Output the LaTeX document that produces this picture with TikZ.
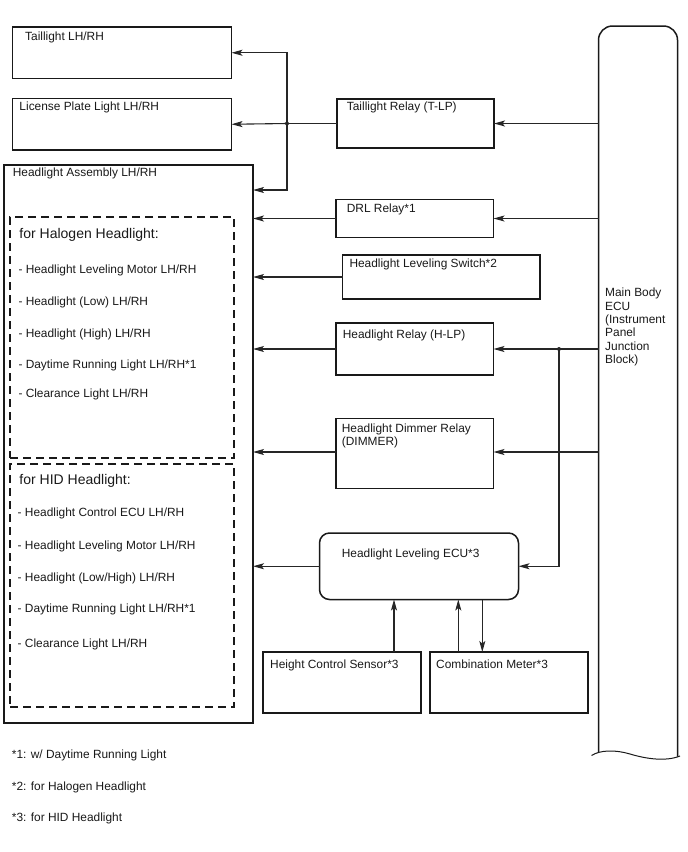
\documentclass[tikz,border=0pt]{standalone}
\usepackage{fontspec}
\setmainfont{Liberation Sans}
\usetikzlibrary{arrows.meta}
\begin{document}
\begin{tikzpicture}[x=1pt,y=-1pt,
  box/.style={draw=black!90, line width=1.5pt, anchor=north west, inner sep=0pt, outer sep=0pt},
  dbox/.style={draw=black!90, line width=1.3pt, dash pattern=on 8pt off 5pt, anchor=north west, inner sep=0pt, outer sep=0pt},
  txt/.style={anchor=base west, inner sep=0pt, font=\fontsize{11.9}{13.5}\selectfont, text=black!90},
  hdr/.style={anchor=base west, inner sep=0pt, font=\fontsize{14}{16}\selectfont, text=black!90},
  mtxt/.style={anchor=north west, inner sep=0pt, align=left, font=\fontsize{11.9}{13.4}\selectfont, text=black!90},
  arr/.style={draw=black!85, line width=1.1pt, -{Stealth[length=11pt,width=6pt,inset=2.5pt]}},
  ln/.style={draw=black!85, line width=1.1pt}
]
\useasboundingbox (0,0) rectangle (688,852);

% ---------- boxes ----------
\node[box, minimum width=219, minimum height=51.5] (tl) at (12.5,27) {};
\node[box, minimum width=219, minimum height=51.5] (lic) at (12.5,98.5) {};
\node[box, minimum width=249, minimum height=558] (assy) at (4,165) {};
\node[dbox, minimum width=224, minimum height=241] (halo) at (10,217) {};
\node[dbox, minimum width=224, minimum height=243] (hid) at (10,464) {};
\node[box, minimum width=157, minimum height=49] (tlr) at (337,99) {};
\node[box, minimum width=157.5, minimum height=38] (drl) at (336,199.5) {};
\node[box, minimum width=197.5, minimum height=44] (sw) at (342.5,255) {};
\node[box, minimum width=157.5, minimum height=52] (hlp) at (336,323) {};
\node[box, minimum width=157.5, minimum height=70] (dim) at (336,418.5) {};
\node[box, rounded corners=10pt, minimum width=199, minimum height=66.5] (lev) at (319.5,533) {};
\node[box, minimum width=158, minimum height=61] (hcs) at (263,652) {};
\node[box, minimum width=158, minimum height=61] (cm) at (430,652) {};

% Main Body ECU (open-ended shape)
\node[anchor=north west, inner sep=0pt, outer sep=0pt, minimum width=79, minimum height=726] (ecu) at (598.5,26) {};
\draw[draw=black!90, line width=1.5pt, rounded corners=14pt]
  (ecu.south west) -- (ecu.north west) -- (ecu.north east) -- ([yshift=-4.5pt]ecu.south east);
\draw[draw=black!90, line width=1pt]
  ([xshift=-7pt,yshift=-3.5pt]ecu.south west) .. controls ([xshift=1.5pt,yshift=2pt]ecu.south west) and ([xshift=16.5pt,yshift=2.5pt]ecu.south west) .. ([xshift=31.5pt,yshift=-2pt]ecu.south west)
  .. controls ([xshift=46.5pt,yshift=-6.5pt]ecu.south west) and ([xshift=66.5pt,yshift=-10pt]ecu.south west) .. ([xshift=81.5pt,yshift=-4pt]ecu.south west);

% ---------- texts ----------
\node[txt] (tlt) at (25,40) {Taillight LH/RH};
\node[txt] (lict) at (19.3,110) {License Plate Light LH/RH};
\node[txt] (assyt) at (12.7,176.5) {Headlight Assembly LH/RH};
\node[hdr] (halot) at (19.3,238) {for Halogen Headlight:};
\node[txt] (h1) at (18.3,273.5) {- Headlight Leveling Motor LH/RH};
\node[txt] (h2) at (18.3,305) {- Headlight (Low) LH/RH};
\node[txt] (h3) at (18.3,337.5) {- Headlight (High) LH/RH};
\node[txt] (h4) at (18.3,368) {- Daytime Running Light LH/RH*1};
\node[txt] (h5) at (18.3,397.5) {- Clearance Light LH/RH};
\node[hdr] (hidt) at (19.3,484) {for HID Headlight:};
\node[txt] (d1) at (17.5,516.5) {- Headlight Control ECU LH/RH};
\node[txt] (d2) at (17.5,549.3) {- Headlight Leveling Motor LH/RH};
\node[txt] (d3) at (17.5,581) {- Headlight (Low/High) LH/RH};
\node[txt] (d4) at (17.5,612.7) {- Daytime Running Light LH/RH*1};
\node[txt] (d5) at (17.5,647) {- Clearance Light LH/RH};
\node[txt] (tlrt) at (346.7,110.5) {Taillight Relay (T-LP)};
\node[txt] (drlt) at (346.7,212) {DRL Relay*1};
\node[txt] (swt) at (349.3,267) {Headlight Leveling Switch*2};
\node[txt] (hlpt) at (342.7,338) {Headlight Relay (H-LP)};
\node[mtxt] (dimt) at (341.7,423.6) {Headlight Dimmer Relay\\(DIMMER)};
\node[txt] (levt) at (341.7,557) {Headlight Leveling ECU*3};
\node[txt] (hcst) at (270,668.5) {Height Control Sensor*3};
\node[txt] (cmt) at (436,668.5) {Combination Meter*3};
\node[mtxt] (ecut) at (605,287.8) {Main Body\\ECU\\(Instrument\\Panel\\Junction\\Block)};
\node[txt] (f1) at (11.7,758.3) {*1: w/ Daytime Running Light};
\node[txt] (f2) at (11.7,790) {*2: for Halogen Headlight};
\node[txt] (f3) at (11.7,821.7) {*3: for HID Headlight};

% ---------- connectors ----------
\coordinate (j1) at (287,123.5);
\draw[arr] (ecu.west |- tlr.east) -- (tlr.east);
\draw[ln] (tlr.west) -- (j1);
\draw[arr] (j1) -- (lic.east);
\draw[arr] (j1) |- (tl.east);
\draw[arr] (j1) |- (assy.east |- 0,190);
\fill[black!85] (j1) circle (2);

\draw[arr] (ecu.west |- drl.east) -- (drl.east);
\draw[arr] (drl.west) -- (assy.east |- drl.west);
\draw[arr] (sw.west) -- (assy.east |- sw.west);

\coordinate (j2) at (559,349);
\draw[arr] (ecu.west |- hlp.east) -- (hlp.east);
\draw[arr] (hlp.west) -- (assy.east |- hlp.west);
\draw[arr] (j2) |- (lev.east);
\fill[black!85] (j2) circle (2);

\draw[arr] (ecu.west |- 0,452) -- (dim.east |- 0,452);
\draw[arr] (dim.west |- 0,452) -- (assy.east |- 0,452);

\draw[arr] (lev.west) -- (assy.east |- lev.west);
\draw[arr] (hcs.north -| 394,0) -- (lev.south -| 394,0);
\draw[arr] (cm.north -| 458.3,0) -- (lev.south -| 458.3,0);
\draw[arr] (lev.south -| 482.3,0) -- (cm.north -| 482.3,0);
\end{tikzpicture}
\end{document}
